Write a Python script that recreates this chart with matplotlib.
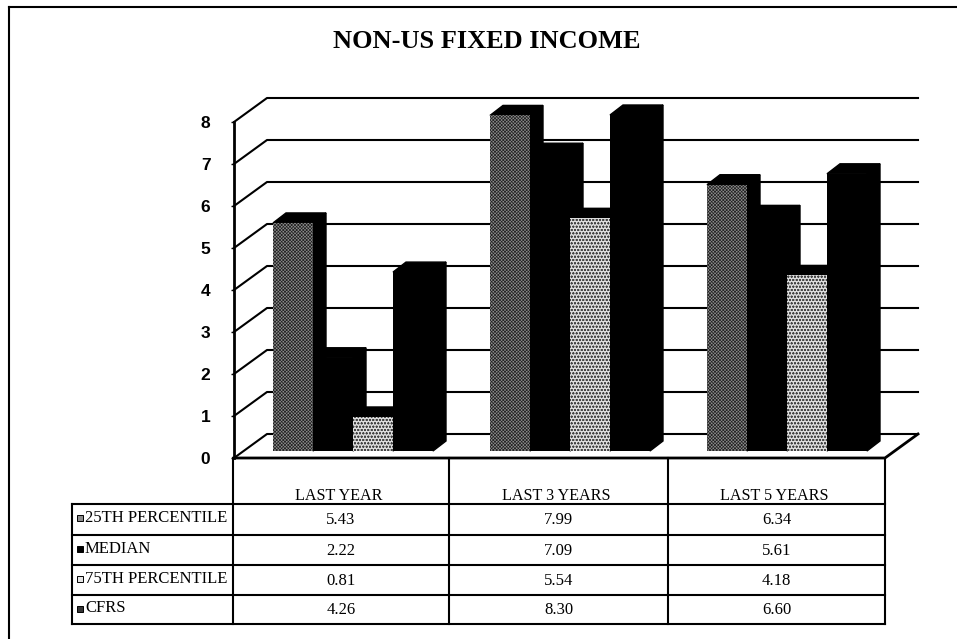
import matplotlib
matplotlib.use('Agg')
import matplotlib.pyplot as plt
from matplotlib.patches import Polygon

categories = ['LAST YEAR', 'LAST 3 YEARS', 'LAST 5 YEARS']
series_names = ['25TH PERCENTILE', 'MEDIAN', '75TH PERCENTILE', 'CFRS']
p25 = [5.43, 7.99, 6.34]
median = [2.22, 7.09, 5.61]
p75 = [0.81, 5.54, 4.18]
cfrs = [4.26, 8.30, 6.60]
table_text = [['5.43', '7.99', '6.34'],
              ['2.22', '7.09', '5.61'],
              ['0.81', '5.54', '4.18'],
              ['4.26', '8.30', '6.60']]
yticks = [0, 1, 2, 3, 4, 5, 6, 7, 8]

plt.rcParams['hatch.linewidth'] = 0.5
serif = 'Liberation Serif'

fig = plt.figure(figsize=(9.57, 6.39), dpi=100)

# pixel overlay for frame and table
pg = fig.add_axes([0, 0, 1, 1], zorder=1)
pg.set_xlim(0, 957)
pg.set_ylim(639, 0)
pg.axis('off')

# chart axes, the front plane: x in categories, y in values
left, right, y0, y8 = 234, 885, 458, 122
ax = fig.add_axes([left/957, 1-y0/639, (right-left)/957, (y0-y8)/639], zorder=2)
ax.set_xlim(0, 3)
ax.set_ylim(0, 8)
ax.patch.set_alpha(0)
for s in ax.spines.values():
    s.set_visible(False)
ax.set_xticks([])
ax.set_yticks(yticks)
ax.set_yticklabels([str(t) for t in yticks], fontsize=12.5, fontweight='bold',
                   family='Liberation Sans')
ax.tick_params(axis='y', length=2, width=1, pad=15)

px = (right-left)/3   # pixels per category
py = (y0-y8)/8        # pixels per unit
wall_dx, wall_dy = 33/px, 24/py
dep_dx, dep_dy = 13/px, 10/py
base_dx, base_dy = 39/px, 7/py
bar_w = 40/px

# back wall and floor
for t in yticks:
    ax.plot([0, wall_dx, 3+wall_dx], [t, t+wall_dy, t+wall_dy], color='k', lw=1.5,
            clip_on=False, zorder=1)
ax.plot([0, 0], [0, 8], color='k', lw=2, clip_on=False, zorder=1)
ax.plot([0, 3, 3+wall_dx], [0, 0, wall_dy], color='k', lw=2, clip_on=False, zorder=1)

styles = [dict(facecolor='#8c8c8c', hatch='xxxxxxxxxx', edgecolor='#222222'),
          dict(facecolor='black', edgecolor='black'),
          dict(facecolor='#dcdcdc', hatch='ooooo', edgecolor='#444444'),
          dict(facecolor='black', edgecolor='black')]
values = [p25, median, p75, cfrs]

for c in range(len(categories)):
    for i, vals in enumerate(values):
        h = min(vals[c], 8)   # the axis stops at 8, so CFRS 8.30 is cut off
        x = c + base_dx + i*bar_w
        b = base_dy
        z = 3 + i
        # side and top of the bar
        ax.add_patch(Polygon([(x+bar_w, b), (x+bar_w+dep_dx, b+dep_dy),
                              (x+bar_w+dep_dx, b+h+dep_dy), (x+bar_w, b+h)],
                             closed=True, facecolor='black', edgecolor='black',
                             clip_on=False, zorder=z))
        ax.add_patch(Polygon([(x, b+h), (x+dep_dx, b+h+dep_dy),
                              (x+bar_w+dep_dx, b+h+dep_dy), (x+bar_w, b+h)],
                             closed=True, facecolor='black', edgecolor='black',
                             clip_on=False, zorder=z))
        ax.bar(x, h, bar_w, bottom=b, align='edge', linewidth=0, clip_on=False,
               zorder=z+0.5, **styles[i])

pg.text(487, 41, 'NON-US FIXED INCOME', family=serif, fontweight='bold', fontsize=19,
        ha='center', va='center')

# outer frame, open on the right
pg.plot([9, 9], [639, 7], color='k', lw=1.5)
pg.plot([9, 957], [7, 7], color='k', lw=1.5)

# table
rows = [503.5, 535, 565, 595, 624]
cols = [72, 233, 449, 668, 885]
for r in rows:
    pg.plot([cols[0], cols[-1]], [r, r], color='k', lw=1.5)
pg.plot([cols[0], cols[0]], [rows[0], rows[-1]], color='k', lw=1.5)
for x in cols[1:]:
    pg.plot([x, x], [458, rows[-1]], color='k', lw=1.5)

for c, name in enumerate(categories):
    mid = (cols[c+1]+cols[c+2])/2
    pg.text(mid-2, 496, name, family=serif, fontsize=11.6, ha='center', va='center')
    for r in range(4):
        pg.text(mid, (rows[r]+rows[r+1])/2+1, table_text[r][c], family=serif, fontsize=12,
                ha='center', va='center')

key_colors = ['#8c8c8c', 'black', '#e4e4e4', '#333333']
for r, name in enumerate(series_names):
    my = (rows[r]+rows[r+1])/2
    pg.plot([80], [my-1], marker='s', ms=4.5, color=key_colors[r], mec='k', mew=0.7)
    pg.text(85, my-1, name, family=serif, fontsize=12, ha='left', va='center')

fig.savefig('out.png', dpi=100)
